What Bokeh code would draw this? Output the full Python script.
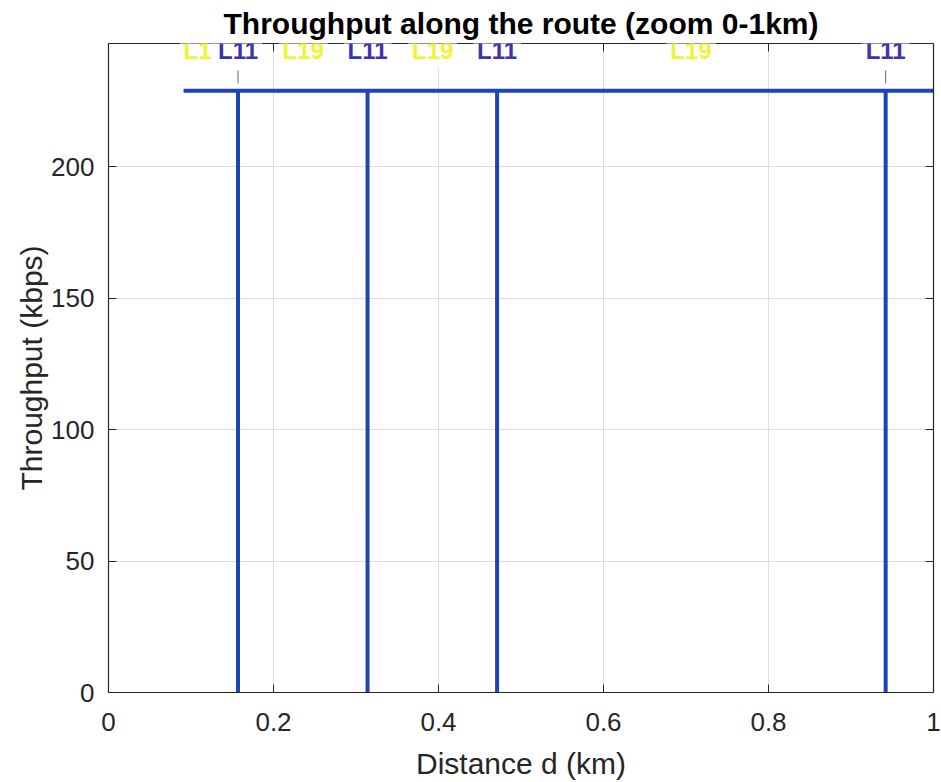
from bokeh.plotting import figure
from bokeh.models import Range1d, LinearAxis, FixedTicker, Label, ColumnDataSource
from bokeh.embed import file_html
from bokeh.resources import INLINE

# ---- data ----
distance_km = [0.091, 0.157, 0.157, 0.157, 0.314, 0.314, 0.314, 0.471, 0.471, 0.471,
               0.942, 0.942, 0.942, 1.0]
throughput_kbps = [229, 229, 0, 229, 229, 0, 229, 229, 0, 229, 229, 0, 229, 229]

cell_labels = ["L1", "L11", "L19", "L11", "L19", "L11", "L19", "L11"]
cell_pos_km = [0.108, 0.157, 0.236, 0.314, 0.393, 0.471, 0.706, 0.942]
cell_colors = ["#f2f236", "#3d33b0", "#f2f236", "#3d33b0", "#f2f236", "#3d33b0", "#f2f236", "#3d33b0"]
handover_marks_km = [0.157, 0.942]

x_ticks = [0, 0.2, 0.4, 0.6, 0.8, 1]
x_tick_labels = ["0", "0.2", "0.4", "0.6", "0.8", "1"]
y_ticks = [0, 50, 100, 150, 200]
y_tick_labels = ["0", "50", "100", "150", "200"]

Y_MAX = 247
W, H = 941, 782
LEFT, RIGHT, TOP, BOTTOM = 108, 8, 43, 89
PX = (H - TOP - BOTTOM) / Y_MAX  # pixels per kbps

FONT = "Liberation Sans"
AX = "#262626"

p = figure(width=W, height=H, output_backend="svg", toolbar_location=None,
           x_range=Range1d(0, 1), y_range=Range1d(0, Y_MAX),
           min_border_left=LEFT, min_border_right=RIGHT,
           min_border_top=TOP, min_border_bottom=BOTTOM,
           background_fill_color="white", border_fill_color="white",
           title="Throughput along the route (zoom 0-1km)")
p.outline_line_color = None
p.title.align = "center"
p.title.text_font = FONT
p.title.text_font_size = "30px"
p.title.text_font_style = "bold"
p.title.text_color = "black"
p.title.standoff = 7
p.title.offset = 0

# axes
for ax in (p.xaxis[0], p.yaxis[0]):
    ax.major_tick_in = 8
    ax.major_tick_out = 0
    ax.minor_tick_in = 0
    ax.minor_tick_out = 0
    ax.axis_line_color = AX
    ax.major_tick_line_color = AX
    ax.axis_line_width = 1.2
    ax.major_label_text_font = FONT
    ax.major_label_text_font_size = "26px"
    ax.major_label_text_color = AX
    ax.axis_label_text_font = FONT
    ax.axis_label_text_font_size = "30px"
    ax.axis_label_text_font_style = "normal"
    ax.axis_label_text_color = AX

p.xaxis[0].ticker = FixedTicker(ticks=x_ticks)
p.xaxis[0].major_label_overrides = dict(zip(x_ticks, x_tick_labels))
p.xaxis[0].axis_label = "Distance d (km)"
p.xaxis[0].major_label_standoff = 20
p.xaxis[0].axis_label_standoff = 13

p.yaxis[0].ticker = FixedTicker(ticks=y_ticks)
p.yaxis[0].major_label_overrides = dict(zip(y_ticks, y_tick_labels))
p.yaxis[0].axis_label = "Throughput (kbps)"
p.yaxis[0].major_label_standoff = 14
p.yaxis[0].axis_label_standoff = 0

# mirrored (box) axes: ticks only, no labels drawn
top_ax = LinearAxis(ticker=FixedTicker(ticks=x_ticks),
                    major_label_text_font_size="1px", major_label_text_color=None,
                    major_tick_in=8, major_tick_out=0, minor_tick_in=0, minor_tick_out=0,
                    axis_line_color=AX, major_tick_line_color=AX, axis_line_width=1.2,
                    major_label_standoff=0)
right_ax = LinearAxis(ticker=FixedTicker(ticks=y_ticks),
                      major_label_text_font_size="1px", major_label_text_color=None,
                      major_tick_in=8, major_tick_out=0, minor_tick_in=0, minor_tick_out=0,
                      axis_line_color=AX, major_tick_line_color=AX, axis_line_width=1.2,
                      major_label_standoff=0)
p.add_layout(top_ax, "above")
p.add_layout(right_ax, "right")

# grid
p.xgrid.ticker = FixedTicker(ticks=x_ticks)
p.ygrid.ticker = FixedTicker(ticks=y_ticks)
p.xgrid.grid_line_color = "#dddddd"
p.ygrid.grid_line_color = "#dddddd"
p.xgrid.grid_line_width = 1
p.ygrid.grid_line_width = 1

# data line
src = ColumnDataSource(dict(x=distance_km, y=throughput_kbps))
p.line("x", "y", source=src, line_color="#1c46b6", line_width=4)

# handover marks under labels
p.segment(x0=handover_marks_km, x1=handover_marks_km,
          y0=[Y_MAX - 27 / PX] * len(handover_marks_km),
          y1=[Y_MAX - 40 / PX] * len(handover_marks_km),
          line_color="#666666", line_width=1)

# cell labels (white boxes over the top border)
for name, xpos, col in zip(cell_labels, cell_pos_km, cell_colors):
    p.add_layout(Label(x=xpos, y=Y_MAX - 7 / PX, text=name,
                       text_align="center", text_baseline="middle",
                       text_font=FONT, text_font_size="24px", text_font_style="bold",
                       text_color=col, background_fill_color="white",
                       padding=4, level="overlay"))

open("out.html", "w").write(file_html(p, INLINE))
